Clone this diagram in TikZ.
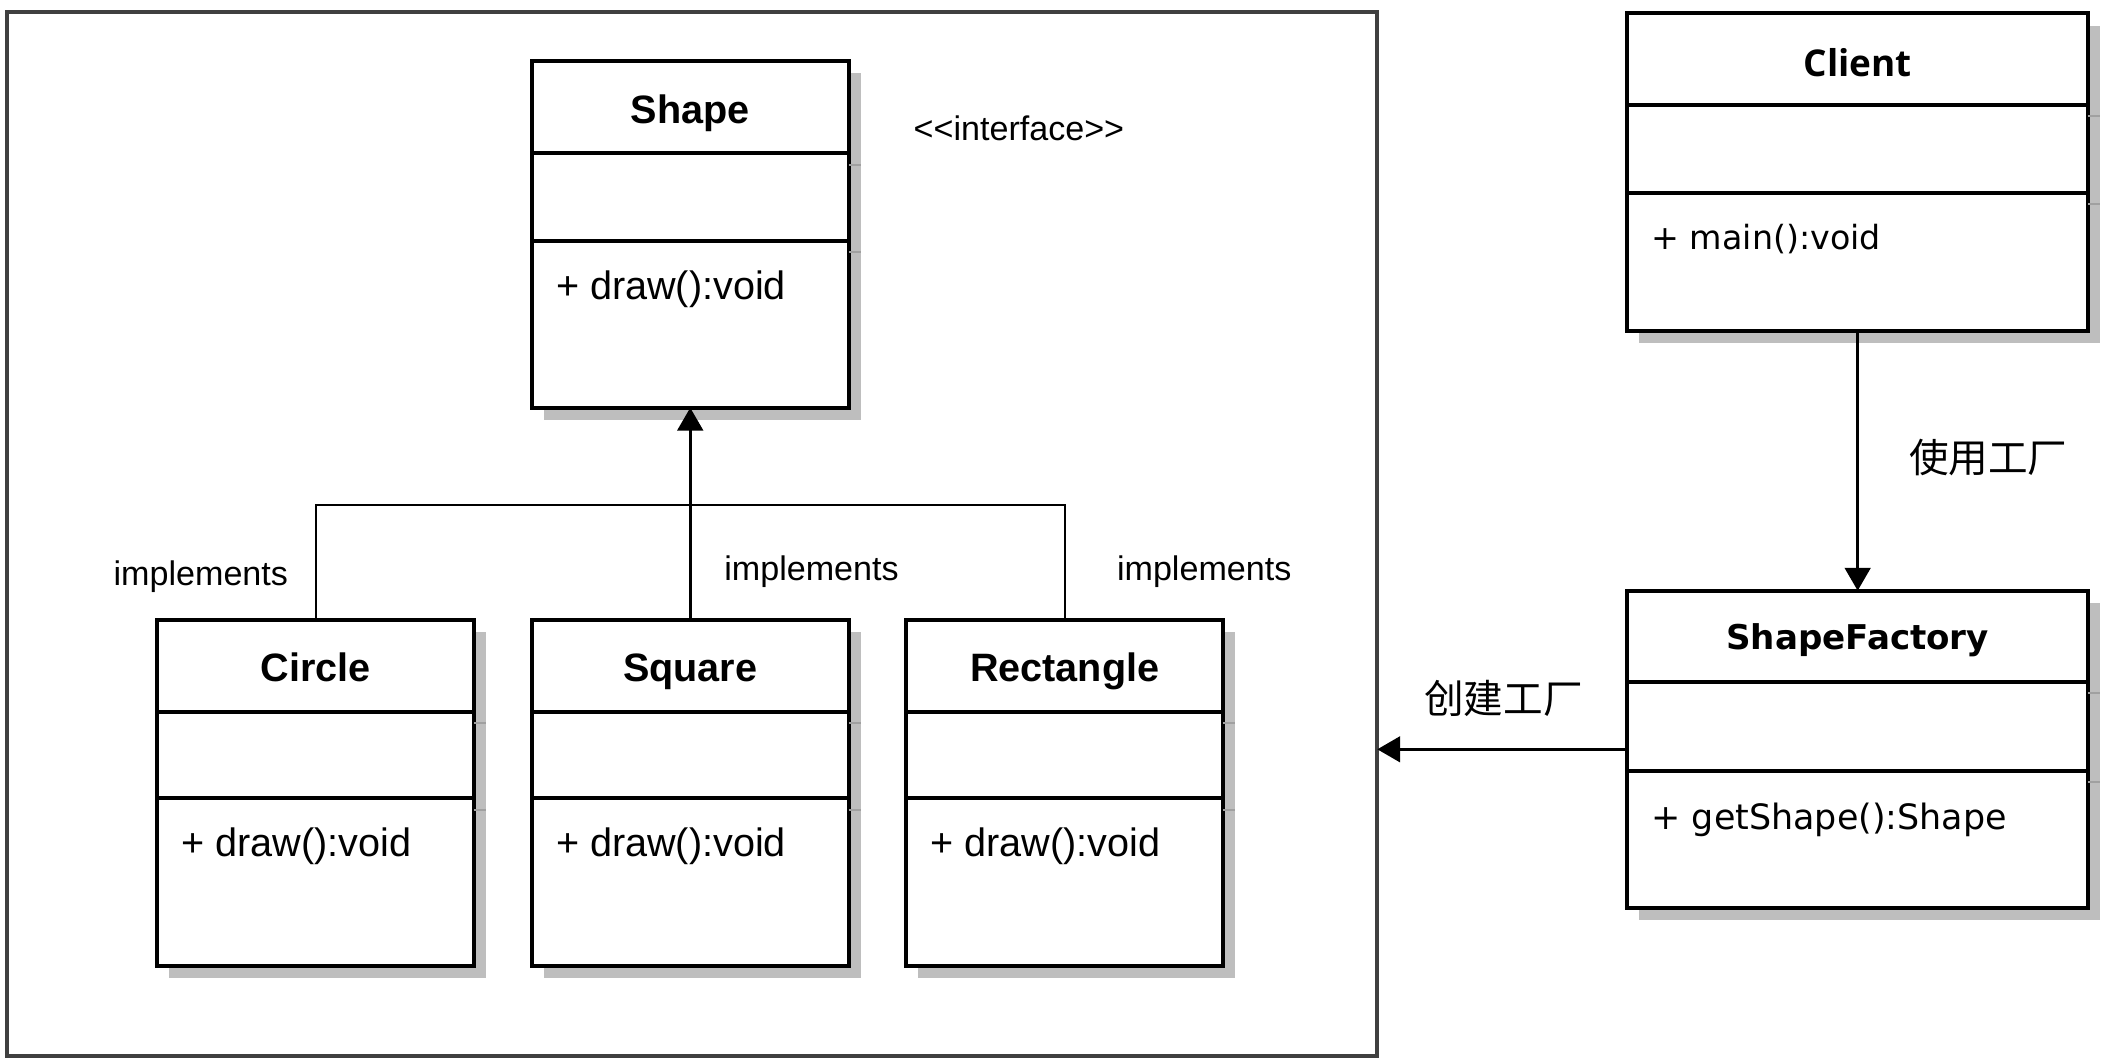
\documentclass[tikz,border=0pt]{standalone}
\usepackage{fontspec}
\setmainfont{Liberation Sans}
\newfontfamily\cjkfont{Noto Sans CJK SC}
\newfontfamily\dejavu{DejaVu Sans}
\newfontfamily\opensans{Open Sans}
\usetikzlibrary{arrows.meta,shadows}
\definecolor{shadowgray}{HTML}{BEBEBE}
\definecolor{tickgray}{HTML}{A0A0A0}
\definecolor{framegray}{HTML}{404040}

\begin{document}
\begin{tikzpicture}[x=1pt,y=1pt,
  classbox/.style={draw=black, fill=white, line width=3pt, inner sep=0pt, outer sep=0pt,
    anchor=north west, drop shadow={shadow xshift=9pt, shadow yshift=-9pt, fill=shadowgray, opacity=1}},
  leftbox/.style={classbox, minimum width=236.3pt, minimum height=258pt},
  rightbox/.style={classbox, minimum width=343.5pt, minimum height=236.3pt},
  divider/.style={line width=3pt},
  tick/.style={tickgray, line width=1.5pt},
  title/.style={inner sep=0pt, anchor=base, font=\fontsize{29.5}{32}\selectfont\bfseries},
  method/.style={inner sep=0pt, anchor=base west, font=\fontsize{29.5}{32}\selectfont},
  lbl/.style={inner sep=0pt, anchor=base, font=\fontsize{25.4}{30}\selectfont},
  cnlbl/.style={inner sep=0pt, font=\fontsize{29.5}{32}\selectfont\cjkfont},
  conn/.style={line width=2.4pt, -{Triangle[width=19pt,length=17pt]}},
  implline/.style={line width=1.5pt}]
\useasboundingbox (0,0) rectangle (1568,-791.8);

% package frame
\node[draw=framegray, line width=3pt, minimum width=1020.7pt, minimum height=778.2pt,
  inner sep=0pt, outer sep=0pt] (impl) at (515.6,-397.7) {};

% interface Shape
\node[leftbox] (shape) at (396,-45.7) {};
\draw[divider] ([yshift=-68.5pt]shape.north west) -- ([yshift=-68.5pt]shape.north east);
\draw[divider] ([yshift=-133.5pt]shape.north west) -- ([yshift=-133.5pt]shape.north east);
\draw[tick] ([yshift=-77pt]shape.north east) -- ++(9,0);
\draw[tick] ([yshift=-142pt]shape.north east) -- ++(9,0);
\node[title] (shape-name) at ([yshift=-46pt]shape.north) {Shape};
\node[method] (shape-op) at ([xshift=18pt,yshift=-177.5pt]shape.north west) {+ draw():void};
\node[lbl] (shape-stereo) at (759,-104.5) {<{}<interface>{}>};

% Circle
\node[leftbox] (circle) at (117,-461.5) {};
\draw[divider] ([yshift=-68.5pt]circle.north west) -- ([yshift=-68.5pt]circle.north east);
\draw[divider] ([yshift=-133pt]circle.north west) -- ([yshift=-133pt]circle.north east);
\draw[tick] ([yshift=-77pt]circle.north east) -- ++(9,0);
\draw[tick] ([yshift=-141.5pt]circle.north east) -- ++(9,0);
\node[title] (circle-name) at ([yshift=-46pt]circle.north) {Circle};
\node[method] (circle-op) at ([xshift=18pt,yshift=-176.5pt]circle.north west) {+ draw():void};

% Square
\node[leftbox] (square) at (396,-461.5) {};
\draw[divider] ([yshift=-68.5pt]square.north west) -- ([yshift=-68.5pt]square.north east);
\draw[divider] ([yshift=-133pt]square.north west) -- ([yshift=-133pt]square.north east);
\draw[tick] ([yshift=-77pt]square.north east) -- ++(9,0);
\draw[tick] ([yshift=-141.5pt]square.north east) -- ++(9,0);
\node[title] (square-name) at ([yshift=-46pt]square.north) {Square};
\node[method] (square-op) at ([xshift=18pt,yshift=-176.5pt]square.north west) {+ draw():void};

% Rectangle
\node[leftbox] (rect) at (675,-461.5) {};
\draw[divider] ([yshift=-68.5pt]rect.north west) -- ([yshift=-68.5pt]rect.north east);
\draw[divider] ([yshift=-133pt]rect.north west) -- ([yshift=-133pt]rect.north east);
\draw[tick] ([yshift=-77pt]rect.north east) -- ++(9,0);
\draw[tick] ([yshift=-141.5pt]rect.north east) -- ++(9,0);
\node[title] (rect-name) at ([yshift=-46pt]rect.north) {Rectangle};
\node[method] (rect-op) at ([xshift=18pt,yshift=-176.5pt]rect.north west) {+ draw():void};

% Client
\node[rightbox] (client) at (1212,-10) {};
\draw[divider] ([yshift=-68pt]client.north west) -- ([yshift=-68pt]client.north east);
\draw[divider] ([yshift=-133.5pt]client.north west) -- ([yshift=-133.5pt]client.north east);
\draw[tick] ([yshift=-76.5pt]client.north east) -- ++(9,0);
\draw[tick] ([yshift=-142pt]client.north east) -- ++(9,0);
\node[title, font=\fontsize{27.5}{32}\selectfont\opensans\bfseries] (client-name) at ([yshift=-47pt]client.north) {Client};
\node[method, font=\fontsize{24.8}{30}\selectfont\dejavu] (client-op) at ([xshift=18pt,yshift=-176pt]client.north west) {+ main():void};

% ShapeFactory
\node[rightbox] (factory) at (1212,-440) {};
\draw[divider] ([yshift=-68pt]factory.north west) -- ([yshift=-68pt]factory.north east);
\draw[divider] ([yshift=-134pt]factory.north west) -- ([yshift=-134pt]factory.north east);
\draw[tick] ([yshift=-76.5pt]factory.north east) -- ++(9,0);
\draw[tick] ([yshift=-142.5pt]factory.north east) -- ++(9,0);
\node[title, font=\fontsize{25.4}{30}\selectfont\dejavu\bfseries] (factory-name) at ([yshift=-44pt]factory.north) {ShapeFactory};
\node[method, font=\fontsize{26}{30}\selectfont\dejavu] (factory-op) at ([xshift=18pt,yshift=-178pt]factory.north west) {+ getShape():Shape};

% implements
\coordinate (bar) at (0,-376.4);
\draw[implline] (circle.north) -- (circle.north |- bar) -- (rect.north |- bar) -- (rect.north);
\draw[conn] (square.north) -- (shape.south);
\node[lbl] (impl-circle) at (149.6,-436) {implements};
\node[lbl] (impl-square) at (604.5,-432.5) {implements};
\node[lbl] (impl-rect) at (897,-432.5) {implements};

% client uses factory, factory creates shapes
\draw[conn] (client.south) -- (factory.north);
\node[cnlbl] (use-lbl) at (1481,-341) {使用工厂};
\draw[conn] (factory.west) -- (impl.east |- factory.west);
\node[cnlbl] (create-lbl) at (1120,-520) {创建工厂};
\end{tikzpicture}
\end{document}
